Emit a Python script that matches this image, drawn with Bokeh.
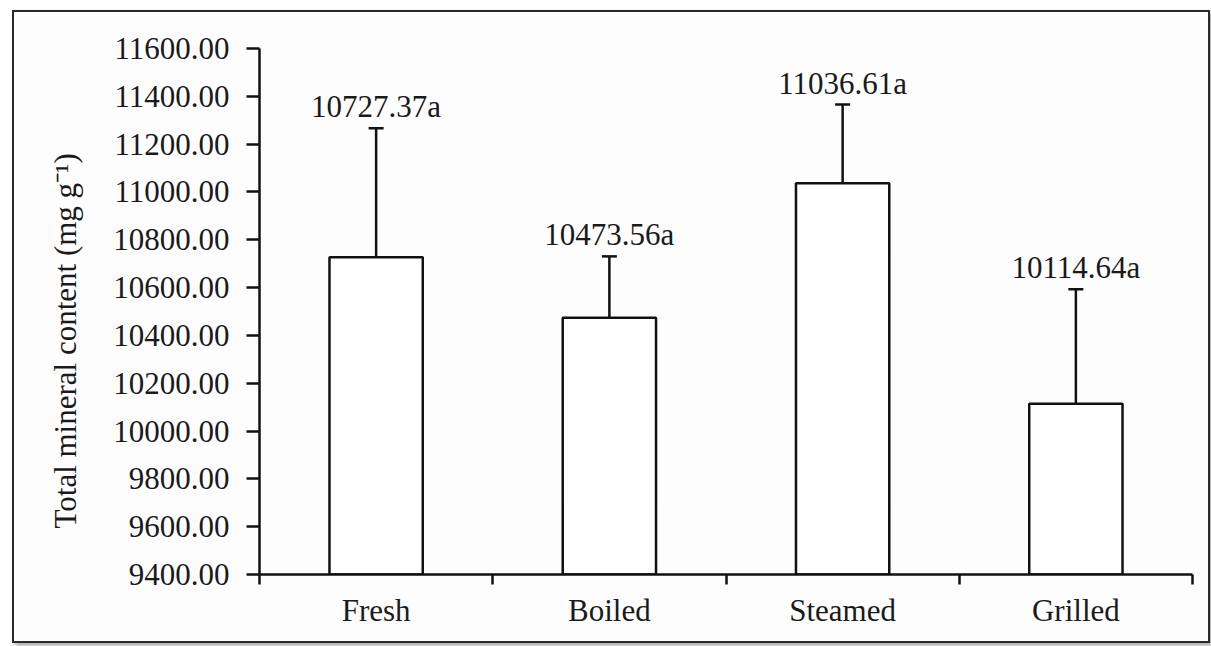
from bokeh.plotting import figure
from bokeh.models import (Range1d, FixedTicker, NumeralTickFormatter, ColumnDataSource,
                          Whisker, TeeHead, Title)
from bokeh.core.properties import value
from bokeh.embed import file_html
from bokeh.resources import INLINE

# ---- data ----
categories = ["Fresh", "Boiled", "Steamed", "Grilled"]
means = [10727.37, 10473.56, 11036.61, 10114.64]
errors = [539, 257, 329, 478]
letters = ["a", "a", "a", "a"]
y_ticks = [9400, 9600, 9800, 10000, 10200, 10400, 10600, 10800, 11000, 11200, 11400, 11600]
y_title = "Total mineral content (mg g\u207b\u00b9)"

FONT = "Liberation Serif"
FS = "31px"
LW = 2.5
INK = "#111111"
TXT = "#1a1a1a"

xs = [i + 0.5 for i in range(len(categories))]
upper = [m + e for m, e in zip(means, errors)]
labels = [f"{m:.2f}{l}" for m, l in zip(means, letters)]

src = ColumnDataSource(dict(x=xs, mean=means, upper=upper, label=labels))

p = figure(width=1198, height=633, output_backend="svg", toolbar_location=None,
           x_range=Range1d(0, len(categories)), y_range=Range1d(y_ticks[0], y_ticks[-1]),
           min_border_left=245, min_border_right=20, min_border_top=36, min_border_bottom=71,
           background_fill_color="#fdfdfd", border_fill_color="#fdfdfd")
p.styles = {"border": "2px solid #2a2a2a", "box-shadow": "3px 3px 5px rgba(0,0,0,0.35)",
            "margin-left": "12px", "margin-top": "10px"}
p.outline_line_color = None
p.xgrid.visible = False
p.ygrid.visible = False

p.vbar(x="x", top="mean", bottom=y_ticks[0], width=0.4, source=src,
       fill_color="white", line_color=INK, line_width=LW)

wh = Whisker(source=src, base="x", lower="mean", upper="upper", dimension="height",
             line_color=INK, line_width=LW,
             upper_head=TeeHead(size=15, line_color=INK, line_width=LW),
             lower_head=None)
p.add_layout(wh)

p.text(x="x", y="upper", text="label", source=src, text_align="center",
       text_baseline="bottom", y_offset=-4, text_font=value(FONT),
       text_font_size=FS, text_color=TXT)

# y axis
ya = p.yaxis[0]
ya.ticker = FixedTicker(ticks=y_ticks)
ya.formatter = NumeralTickFormatter(format="0.00")
ya.major_tick_out = 13
ya.major_tick_in = 0
ya.minor_tick_line_color = None
ya.major_label_standoff = 17
ya.axis_line_width = LW
ya.major_tick_line_width = LW
ya.axis_line_color = INK
ya.major_tick_line_color = INK
ya.major_label_text_font = FONT
ya.major_label_text_font_size = FS
ya.major_label_text_color = TXT

# y title, starting a little above the bottom of the frame as in the reference
t = Title(text=y_title, align="left", offset=46, standoff=55,
          text_font=FONT, text_font_size=FS, text_font_style="normal", text_color=TXT)
p.add_layout(t, "left")

# x axis: labels at category centres, ticks at category boundaries
xa = p.xaxis[0]
xa.ticker = FixedTicker(ticks=xs, minor_ticks=list(range(len(categories) + 1)))
xa.major_label_overrides = {x: c for x, c in zip(xs, categories)}
xa.major_tick_out = 0
xa.major_tick_in = 0
xa.minor_tick_out = 10
xa.minor_tick_in = 0
xa.minor_tick_line_width = LW
xa.minor_tick_line_color = INK
xa.axis_line_width = LW
xa.axis_line_color = INK
xa.major_label_standoff = 8
xa.major_label_text_font = FONT
xa.major_label_text_font_size = FS
xa.major_label_text_color = TXT

open("out.html", "w").write(file_html(p, INLINE))
